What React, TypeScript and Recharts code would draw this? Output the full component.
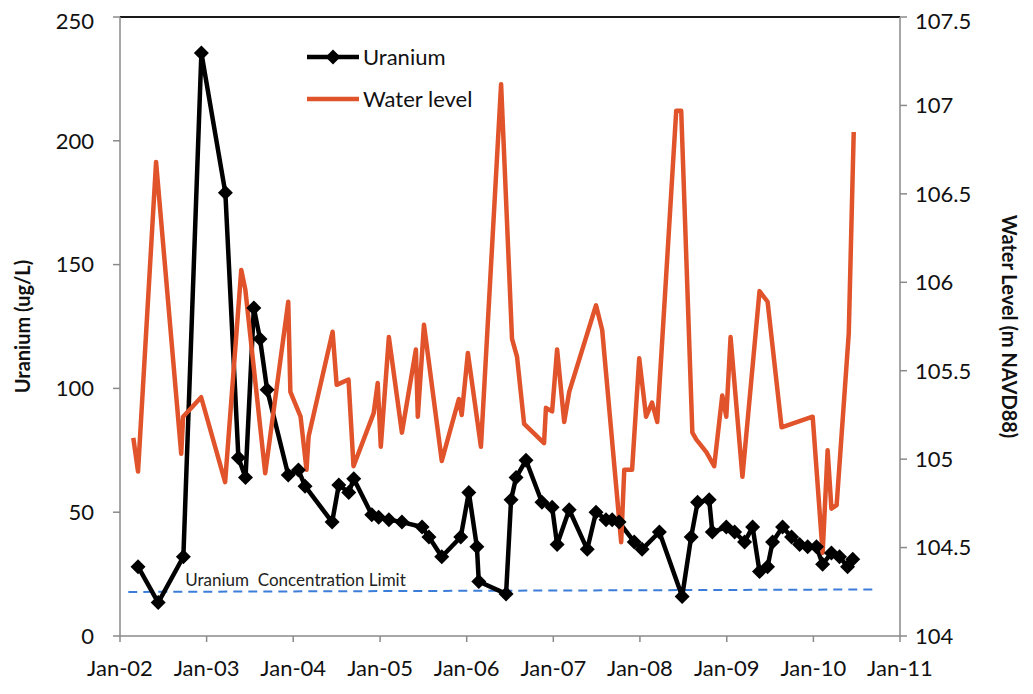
import React from 'react';
import { LineChart, Line, XAxis, YAxis, ReferenceLine } from 'recharts';

// sampling dates (yyyy-mm-dd) and concentrations, ug/L
const uraniumDates = [
  '2002-03-18', '2002-06-11', '2002-09-25', '2002-12-10', '2003-03-21', '2003-05-15', '2003-06-14',
  '2003-07-19', '2003-08-14', '2003-09-13', '2003-12-11', '2004-01-23', '2004-02-20', '2004-06-13',
  '2004-07-11', '2004-08-22', '2004-09-12', '2004-11-27', '2004-12-26', '2005-02-07', '2005-04-03',
  '2005-06-27', '2005-07-26', '2005-09-18', '2005-12-07', '2006-01-10', '2006-02-13', '2006-02-21',
  '2006-06-16', '2006-07-07', '2006-07-28', '2006-09-08', '2006-11-14', '2006-12-27', '2007-01-17',
  '2007-03-09', '2007-05-24', '2007-06-30', '2007-08-11', '2007-09-06', '2007-10-05', '2007-12-08',
  '2008-01-10', '2008-03-23', '2008-06-27', '2008-08-04', '2008-08-31', '2008-10-19', '2008-11-01',
  '2008-12-30', '2009-02-03', '2009-03-17', '2009-04-20', '2009-05-19', '2009-06-22', '2009-07-13',
  '2009-08-24', '2009-10-01', '2009-11-04', '2009-12-08', '2010-01-14', '2010-02-09', '2010-03-18',
  '2010-04-21', '2010-05-25', '2010-06-16',
];
const uraniumValues = [
  28, 13.5, 32, 235.5, 179, 72, 64,
  132.5, 120, 99.5, 65, 67, 60.5, 46,
  61, 58, 63.5, 49, 48, 47, 46,
  44, 40, 32, 40, 58, 36, 22,
  17, 55, 64, 71, 54, 52, 37,
  51, 35, 50, 47, 47, 46, 38,
  35, 42, 16, 40, 54, 55, 42,
  44, 42, 38, 44, 26, 28, 38,
  44, 40, 37, 36, 36, 29, 33.5,
  32, 28, 31,
];

// gauge readings, m NAVD88
const levelDates = [
  '2002-02-26', '2002-03-18', '2002-06-02', '2002-09-16', '2002-09-24', '2002-12-09', '2003-03-20',
  '2003-05-27', '2003-06-13', '2003-09-05', '2003-12-11', '2003-12-20', '2004-02-01', '2004-02-26',
  '2004-03-06', '2004-06-15', '2004-07-02', '2004-08-21', '2004-09-11', '2004-12-05', '2004-12-22',
  '2005-01-04', '2005-02-07', '2005-04-03', '2005-06-01', '2005-06-09', '2005-07-05', '2005-09-18',
  '2005-11-29', '2005-12-11', '2006-01-06', '2006-03-02', '2006-05-26', '2006-07-11', '2006-08-01',
  '2006-08-31', '2006-11-23', '2006-12-01', '2006-12-27', '2007-01-17', '2007-02-16', '2007-03-09',
  '2007-06-30', '2007-07-26', '2007-10-14', '2007-10-27', '2007-11-29', '2007-12-29', '2008-01-27',
  '2008-02-21', '2008-03-14', '2008-06-02', '2008-06-23', '2008-08-09', '2008-08-26', '2008-10-07',
  '2008-11-09', '2008-12-13', '2008-12-30', '2009-01-17', '2009-03-08', '2009-05-19', '2009-06-22',
  '2009-08-20', '2009-12-29', '2010-02-09', '2010-03-02', '2010-03-18', '2010-04-09', '2010-05-30',
  '2010-06-20',
];
const levelValues = [
  105.12, 104.93, 106.68, 105.03, 105.24, 105.35, 104.87,
  106.07, 105.96, 104.92, 105.89, 105.38, 105.24, 104.94,
  105.13, 105.72, 105.42, 105.45, 104.96, 105.26, 105.43,
  105.07, 105.69, 105.15, 105.62, 105.24, 105.76, 104.99,
  105.34, 105.25, 105.6, 105.07, 107.12, 105.68, 105.58,
  105.2, 105.09, 105.29, 105.27, 105.62, 105.21, 105.38,
  105.87, 105.73, 104.53, 104.94, 104.94, 105.57, 105.24,
  105.32, 105.21, 106.97, 106.97, 105.15, 105.11, 105.04,
  104.96, 105.36, 105.24, 105.69, 104.9, 105.95, 105.89,
  105.18, 105.24, 104.47, 105.05, 104.72, 104.74, 105.71,
  106.85,
];

const limitDates = ['2002-02-05', '2010-09-28'];
const limitValues = [17.8, 18.8];

const yearTicks = [
  '2002-01-01', '2003-01-01', '2004-01-01', '2005-01-01', '2006-01-01',
  '2007-01-01', '2008-01-01', '2009-01-01', '2010-01-01', '2011-01-01',
];
const uraniumTicks = [0, 50, 100, 150, 200, 250];
const levelTicks = [104, 104.5, 105, 105.5, 106, 106.5, 107, 107.5];

const toTime = (d: string) => Date.parse(d + 'T00:00:00Z');
const pairUp = (dates: string[], values: number[]) =>
  dates.map((d, i) => ({ t: toTime(d), v: values[i] }));

const uranium = pairUp(uraniumDates, uraniumValues);
const waterLevel = pairUp(levelDates, levelValues);
const limit = pairUp(limitDates, limitValues);
const xTicks = yearTicks.map(toTime);

const RED = '#E0532B';
const AXIS = '#8a8a8a';
const INK = '#111';

const fmtYear = (t: number) => 'Jan-' + String(new Date(t).getUTCFullYear()).slice(2);

const Diamond = (props: any) => {
  const { cx, cy, index } = props;
  if (cx == null || cy == null) return <g key={`d-${index}`} />;
  const r = 7.5;
  return (
    <path
      key={`d-${index}`}
      d={`M${cx},${cy - r}L${cx + r},${cy}L${cx},${cy + r}L${cx - r},${cy}Z`}
      fill="#000"
    />
  );
};

// caption sits just above the start of the dashed limit line
const limitLabel = (p: any) =>
  p.index === 0 ? (
    <text key="limit-label" x={p.x + 57} y={p.y - 6} fontSize={17} fill="#222" style={{ whiteSpace: 'pre' }}>
      {'Uranium  Concentration Limit'}
    </text>
  ) : (
    <g key={`ll-${p.index}`} />
  );

const sideTitle = (text: string, dx: number, angle: number) => (props: any) => {
  const vb = props.viewBox;
  const x = vb.x + dx;
  const y = vb.y + vb.height / 2;
  return (
    <text
      x={x}
      y={y}
      transform={`rotate(${angle}, ${x}, ${y})`}
      textAnchor="middle"
      dominantBaseline="central"
      fontSize={20}
      fontWeight="bold"
      fill={INK}
    >
      {text}
    </text>
  );
};

const Key = () => (
  <div style={{ position: 'absolute', left: 299, top: 28, fontSize: 22, color: INK, lineHeight: '42px' }}>
    <div style={{ display: 'flex', alignItems: 'center' }}>
      <svg width={52} height={20}>
        <line x1={0} y1={10} x2={52} y2={10} stroke="#000" strokeWidth={4.5} />
        <path d="M26,2.5L33.5,10L26,17.5L18.5,10Z" fill="#000" />
      </svg>
      <span style={{ marginLeft: 4 }}>Uranium</span>
    </div>
    <div style={{ display: 'flex', alignItems: 'center' }}>
      <svg width={52} height={20}>
        <line x1={0} y1={10} x2={52} y2={10} stroke={RED} strokeWidth={4.5} />
      </svg>
      <span style={{ marginLeft: 4 }}>Water level</span>
    </div>
  </div>
);

export default function App() {
  return (
    <div style={{ position: 'relative', width: 1017, height: 678, fontFamily: 'Lato, sans-serif', background: '#fff' }}>
      <LineChart width={1017} height={678} margin={{ top: 9, right: 0, bottom: 0, left: 0 }}>
        <XAxis
          dataKey="t"
          type="number"
          domain={[xTicks[0], xTicks[xTicks.length - 1]]}
          ticks={xTicks}
          tickFormatter={fmtYear}
          height={50}
          tickSize={6}
          tickMargin={18}
          axisLine={{ stroke: AXIS, strokeWidth: 1.5 }}
          tickLine={{ stroke: AXIS, strokeWidth: 1.5 }}
          tick={{ fontSize: 22, fill: INK }}
          allowDataOverflow
        />
        <YAxis
          yAxisId="left"
          domain={[0, 250]}
          ticks={uraniumTicks}
          width={112}
          tickSize={7}
          tickMargin={19}
          axisLine={{ stroke: AXIS, strokeWidth: 1.5 }}
          tickLine={{ stroke: AXIS, strokeWidth: 1.5 }}
          tick={{ fontSize: 22, fill: INK }}
          label={{ content: sideTitle('Uranium (ug/L)', 14, -90) }}
        />
        <YAxis
          yAxisId="right"
          orientation="right"
          domain={[104, 107.5]}
          ticks={levelTicks}
          width={125}
          tickSize={7}
          tickMargin={8}
          axisLine={{ stroke: AXIS, strokeWidth: 1.5 }}
          tickLine={{ stroke: AXIS, strokeWidth: 1.5 }}
          tick={{ fontSize: 22, fill: INK }}
          label={{ content: sideTitle('Water Level (m NAVD88)', 110, 90) }}
        />
        <ReferenceLine yAxisId="left" y={250} stroke="#1a1a1a" strokeWidth={2} ifOverflow="visible" />
        <Line
          yAxisId="left"
          data={limit}
          dataKey="v"
          stroke="#3C7DD9"
          strokeWidth={2}
          strokeDasharray="9 6"
          dot={false}
          label={limitLabel}
          isAnimationActive={false}
        />
        <Line
          yAxisId="left"
          data={uranium}
          dataKey="v"
          name="Uranium"
          stroke="#000"
          strokeWidth={4.5}
          strokeLinejoin="round"
          dot={Diamond}
          activeDot={false}
          isAnimationActive={false}
        />
        <Line
          yAxisId="right"
          data={waterLevel}
          dataKey="v"
          name="Water level"
          stroke={RED}
          strokeWidth={4.5}
          strokeLinejoin="round"
          dot={false}
          activeDot={false}
          isAnimationActive={false}
        />
      </LineChart>
      <Key />
    </div>
  );
}
